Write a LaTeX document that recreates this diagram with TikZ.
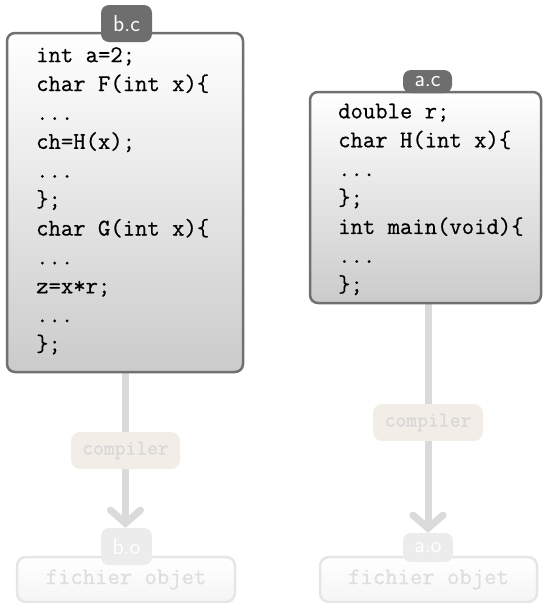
\documentclass[tikz,border=0pt]{standalone}
\usepackage{fontspec}
\setmonofont{Latin Modern Mono}[FakeBold=0.5]
\usetikzlibrary{arrows.meta}
\pgfdeclarelayer{background}
\pgfsetlayers{background,main}

\definecolor{edgegray}{HTML}{707070}
\definecolor{tagfill}{HTML}{6E6E6E}
\definecolor{boxbottom}{HTML}{CBCBCB}
\definecolor{flowgray}{HTML}{DADADA}
\definecolor{stepfill}{HTML}{F2EDE7}
\definecolor{steptext}{HTML}{D7D7D7}
\definecolor{objedge}{HTML}{E6E6E6}
\definecolor{objtext}{HTML}{DEDEDE}
\definecolor{objtag}{HTML}{ECECEC}

\tikzset{
  codebox/.style={draw=edgegray, line width=2.5pt, rounded corners=8pt,
    top color=white, bottom color=boxbottom, inner sep=0pt},
  codetext/.style={anchor=north west, inner sep=0pt, align=left,
    font=\ttfamily\fontsize{24}{28.9}\selectfont},
  filetag/.style={fill=tagfill, text=white, rounded corners=8pt, inner sep=0pt,
    font=\sffamily\fontsize{23}{26}\selectfont},
  compilestep/.style={fill=stepfill, text=steptext, rounded corners=9pt, inner sep=0pt,
    minimum height=37pt, font=\ttfamily\fontsize{21}{24}\selectfont},
  objbox/.style={draw=objedge, line width=2.5pt, rounded corners=9pt, inner sep=0pt,
    top color=white, bottom color=white!96!black, text=objtext,
    font=\ttfamily\fontsize{24}{26}\selectfont},
  objtagstyle/.style={fill=objtag, text=white, rounded corners=8pt, inner sep=0pt,
    font=\sffamily\fontsize{23}{26}\selectfont},
  flow/.style={draw=flowgray, line width=7pt,
    -{Straight Barb[length=13pt, width=30pt, line cap=round]}}
}

\begin{document}
\begin{tikzpicture}[x=1pt, y=-1pt]
\useasboundingbox (0,0) rectangle (543,603);

% source file b.c
\node[codebox, minimum width=236pt, minimum height=339pt] (bc) at (125,202.5) {};
\node[codetext] (bcsrc) at (36,47) {int a=2;\\
char F(int x)\{\\
...\\
ch=H(x);\\
...\\
\};\\
char G(int x)\{\\
...\\
z=x*r;\\
...\\
\};};
\node[filetag, minimum width=51pt, minimum height=37pt] (bctag) at (126.5,23.5) {b.c};

% source file a.c
\node[codebox, minimum width=231pt, minimum height=211pt] (ac) at (425.5,197.5) {};
\node[codetext] (acsrc) at (338,103.5) {double r;\\
char H(int x)\{\\
...\\
\};\\
int main(void)\{\\
...\\
\};};
\node[filetag, minimum width=49pt, minimum height=23pt] (actag) at (427.5,81.5) {a.c};

% compilation steps
\node[compilestep, minimum width=109pt] (bcomp) at (125.5,450.5) {compiler};
\node[compilestep, minimum width=110pt] (acomp) at (428,422.5) {compiler};

% object files
\node[objbox, minimum width=218pt, minimum height=45pt] (bobj) at (126,579.5) {fichier objet};
\node[objtagstyle, minimum width=51pt, minimum height=37pt] (botag) at (126.5,546.5) {b.o};
\node[objbox, minimum width=217pt, minimum height=45pt] (aobj) at (428.5,579.5) {fichier objet};
\node[objtagstyle, minimum width=50pt, minimum height=29pt] (aotag) at (428,547.5) {a.o};

% flows from sources to objects
\begin{pgfonlayer}{background}
  \draw[flow] (bc.south -| bcomp) -- (botag.north -| bcomp);
  \draw[flow] (ac.south -| acomp) -- (aotag.north -| acomp);
\end{pgfonlayer}
\end{tikzpicture}
\end{document}
